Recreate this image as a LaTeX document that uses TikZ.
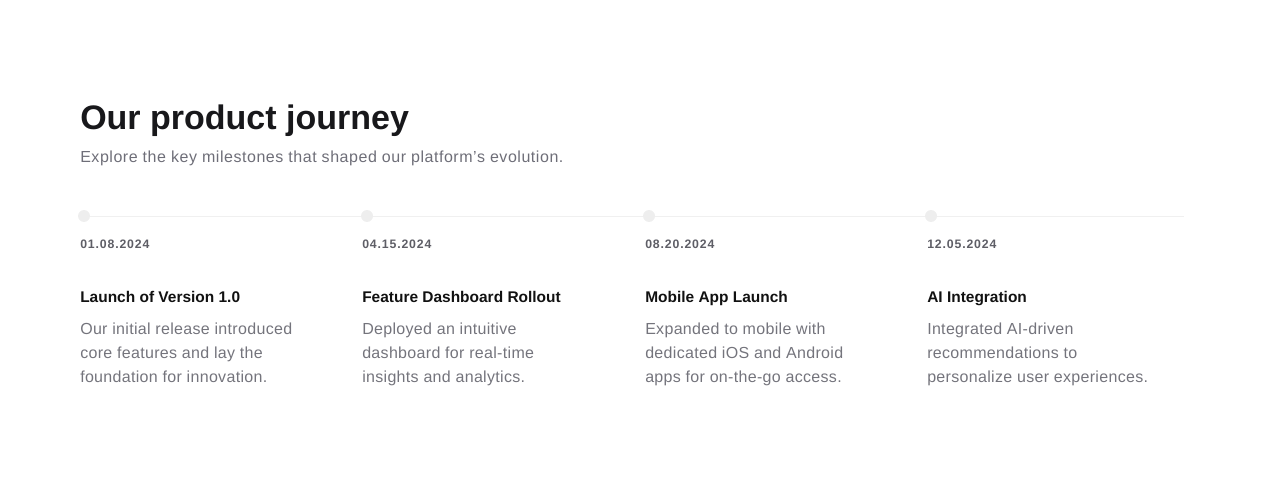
\documentclass[tikz,border=0pt]{standalone}
\usepackage{fontspec}
\setmainfont{Liberation Sans}
\definecolor{titlec}{HTML}{18181B}
\definecolor{subc}{HTML}{6E6E78}
\definecolor{datec}{HTML}{5E5E66}
\definecolor{headc}{HTML}{111111}
\definecolor{bodyc}{HTML}{74747C}
\definecolor{linec}{HTML}{F0F0F0}
\definecolor{dotc}{HTML}{EEEEEE}
\begin{document}
\begin{tikzpicture}[x=0.75pt,y=-0.75pt,
  title/.style={anchor=base west,inner sep=0pt,font=\fontsize{25.5}{30}\selectfont\bfseries,text=titlec},
  subtitle/.style={anchor=base west,inner sep=0pt,font=\fontsize{12}{14}\selectfont\addfontfeature{LetterSpace=3.4},text=subc},
  datelbl/.style={anchor=base west,inner sep=0pt,font=\fontsize{9.2}{10}\selectfont\bfseries\addfontfeature{LetterSpace=7},text=datec},
  heading/.style={anchor=base west,inner sep=0pt,font=\fontsize{11.6}{14}\selectfont\bfseries,text=headc},
  bodytxt/.style={anchor=base west,inner sep=0pt,align=left,font=\fontsize{12}{18}\selectfont\addfontfeature{LetterSpace=2},text=bodyc},
  dotm/.style={circle,fill=dotc,inner sep=0pt,minimum size=9pt},
]
\useasboundingbox (0,0) rectangle (1265,485);
\node[title] (t) at (80,130) {Our product journey};
\node[subtitle] (s) at (80,162) {Explore the key milestones that shaped our platform’s evolution.};
\coordinate (lend) at (1184,216);
\node[dotm] (d1) at (84,216) {};
\node[dotm] (d2) at (367,216) {};
\node[dotm] (d3) at (649,216) {};
\node[dotm] (d4) at (931,216) {};
\draw[linec,line width=0.75pt] (d1.east) -- (d2.west);
\draw[linec,line width=0.75pt] (d2.east) -- (d3.west);
\draw[linec,line width=0.75pt] (d3.east) -- (d4.west);
\draw[linec,line width=0.75pt] (d4.east) -- (lend);
\node[datelbl] (a1) at (80,248) {01.08.2024};
\node[datelbl] (a2) at (362,248) {04.15.2024};
\node[datelbl] (a3) at (645,248) {08.20.2024};
\node[datelbl] (a4) at (927,248) {12.05.2024};
\node[heading] (h1) at (80,302) {Launch of Version 1.0};
\node[heading] (h2) at (362,302) {Feature Dashboard Rollout};
\node[heading] (h3) at (645,302) {Mobile App Launch};
\node[heading] (h4) at (927,302) {AI Integration};
\node[bodytxt] (b1) at (80,382) {Our initial release introduced\\core features and lay the\\foundation for innovation.};
\node[bodytxt] (b2) at (362,382) {Deployed an intuitive\\dashboard for real-time\\insights and analytics.};
\node[bodytxt] (b3) at (645,382) {Expanded to mobile with\\dedicated iOS and Android\\apps for on-the-go access.};
\node[bodytxt] (b4) at (927,382) {Integrated AI-driven\\recommendations to\\personalize user experiences.};
\end{tikzpicture}
\end{document}
